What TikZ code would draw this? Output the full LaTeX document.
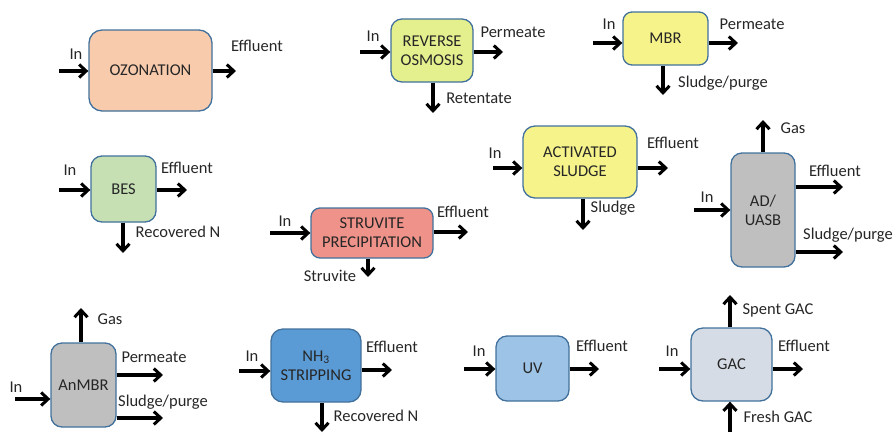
\documentclass[tikz,border=0pt]{standalone}
\usepackage{fontspec}
\setmainfont{Carlito}
\usetikzlibrary{arrows.meta}
\definecolor{ozfill}{HTML}{F8CBAD}
\definecolor{rofill}{HTML}{E4EF8E}
\definecolor{yelfill}{HTML}{F6F38A}
\definecolor{besfill}{HTML}{C6E0B4}
\definecolor{strfill}{HTML}{EF9289}
\definecolor{grayfill}{HTML}{BFBFBF}
\definecolor{nhfill}{HTML}{5B9BD5}
\definecolor{uvfill}{HTML}{9DC3E6}
\definecolor{gacfill}{HTML}{D6DCE5}
\definecolor{edge}{HTML}{41719C}
\definecolor{txt}{HTML}{262626}
\tikzset{
  box/.style={draw=edge, line width=1.3pt, rounded corners=11pt, align=center,
    inner sep=0pt, text=txt, font=\fontsize{16.5}{19}\selectfont},
  flow/.style={line width=3.2pt, -{Straight Barb[length=7pt,width=13pt,line width=3pt]}},
  lbl/.style={inner sep=0pt, text=txt, font=\fontsize{16.5}{19}\selectfont},
}
\begin{document}
\begin{tikzpicture}[x=1pt,y=-1pt]
\useasboundingbox (0,0) rectangle (896,432);
% OZONATION
\node[box, fill=ozfill, minimum width=123pt, minimum height=81pt, rounded corners=13pt] (oz) at (150.5,70.5) {OZONATION};
\coordinate (ozin) at (59,71); \coordinate (ozout) at (236,71);
\draw[flow] (ozin) -- (oz.west |- ozin);
\draw[flow] (oz.east |- ozout) -- (ozout);
\node[lbl] (ozl1) at (76,54) {In};
\node[lbl] (ozl2) at (257,46) {Effluent};
% REVERSE OSMOSIS
\node[box, fill=rofill, minimum width=82pt, minimum height=63pt] (ro) at (432,50.5) {REVERSE\\OSMOSIS};
\coordinate (roin) at (360,52); \coordinate (roout) at (503,52); \coordinate (rodown) at (433,113);
\draw[flow] (roin) -- (ro.west |- roin);
\draw[flow] (ro.east |- roout) -- (roout);
\draw[flow] (ro.south -| rodown) -- (rodown);
\node[lbl] (rol1) at (373,36) {In};
\node[lbl] (rol2) at (513,32) {Permeate};
\node[lbl] (rol3) at (479,98) {Retentate};
% MBR
\node[box, fill=yelfill, minimum width=85pt, minimum height=53pt, rounded corners=9pt] (mbr) at (665.5,38.5) {MBR};
\coordinate (mbrin) at (593,43); \coordinate (mbrout) at (738,43); \coordinate (mbrdown) at (663,95);
\draw[flow] (mbrin) -- (mbr.west |- mbrin);
\draw[flow] (mbr.east |- mbrout) -- (mbrout);
\draw[flow] (mbr.south -| mbrdown) -- (mbrdown);
\node[lbl] (mbrl1) at (609,24) {In};
\node[lbl] (mbrl2) at (752,24) {Permeate};
\node[lbl] (mbrl3) at (723,83) {Sludge/purge};
% BES
\node[box, fill=besfill, minimum width=65pt, minimum height=66pt] (bes) at (123.5,189) {BES};
\coordinate (besin) at (59,190); \coordinate (besout) at (187,190); \coordinate (besdown) at (123,253);
\draw[flow] (besin) -- (bes.west |- besin);
\draw[flow] (bes.east |- besout) -- (besout);
\draw[flow] (bes.south -| besdown) -- (besdown);
\node[lbl] (besl1) at (70,170) {In};
\node[lbl] (besl2) at (187,168) {Effluent};
\node[lbl] (besl3) at (178,232) {Recovered N};
% STRUVITE
\node[box, fill=strfill, minimum width=122pt, minimum height=50pt, rounded corners=9pt] (str) at (372,233) {STRUVITE\\PRECIPITATION};
\coordinate (strin) at (270,233); \coordinate (strout) at (468,232); \coordinate (strdown) at (368,277);
\draw[flow] (strin) -- (str.west |- strin);
\draw[flow] (str.east |- strout) -- (strout);
\draw[flow] (str.south -| strdown) -- (strdown);
\node[lbl] (strl1) at (285,221) {In};
\node[lbl] (strl2) at (463,212) {Effluent};
\node[lbl] (strl3) at (330,276) {Struvite};
% ACTIVATED SLUDGE
\node[box, fill=yelfill, minimum width=114pt, minimum height=72pt, rounded corners=12pt] (as) at (580,162) {ACTIVATED\\SLUDGE};
\coordinate (asin) at (493,168); \coordinate (asout) at (668,168); \coordinate (asdown) at (583,230);
\draw[flow] (asin) -- (as.west |- asin);
\draw[flow] (as.east |- asout) -- (asout);
\draw[flow] (as.south -| asdown) -- (asdown);
\node[lbl] (asl1) at (495,153) {In};
\node[lbl] (asl2) at (673,143) {Effluent};
\node[lbl] (asl3) at (613,208) {Sludge};
% AD/UASB
\node[box, fill=grayfill, minimum width=64pt, minimum height=114pt] (ad) at (763,210) {AD/\\UASB};
\coordinate (adin) at (694,210); \coordinate (adup) at (763,120);
\coordinate (adeff) at (843,187); \coordinate (adsl) at (843,252);
\draw[flow] (adin) -- (ad.west |- adin);
\draw[flow] (ad.north -| adup) -- (adup);
\draw[flow] (ad.east |- adeff) -- (adeff);
\draw[flow] (ad.east |- adsl) -- (adsl);
\node[lbl] (adl1) at (793,128) {Gas};
\node[lbl] (adl2) at (707,197) {In};
\node[lbl] (adl3) at (835,171) {Effluent};
\node[lbl] (adl4) at (848,235) {Sludge/purge};
% AnMBR
\node[box, fill=grayfill, minimum width=65pt, minimum height=84pt] (an) at (83.5,385) {AnMBR};
\coordinate (anin) at (15,399); \coordinate (anup) at (81,308);
\coordinate (anper) at (163,375); \coordinate (ansl) at (163,418);
\draw[flow] (anin) -- (an.west |- anin);
\draw[flow] (an.north -| anup) -- (anup);
\draw[flow] (an.east |- anper) -- (anper);
\draw[flow] (an.east |- ansl) -- (ansl);
\node[lbl] (anl1) at (110,319) {Gas};
\node[lbl] (anl2) at (16,387) {In};
\node[lbl] (anl3) at (154,357) {Permeate};
\node[lbl] (anl4) at (163,402) {Sludge/purge};
% NH3 STRIPPING
\node[box, fill=nhfill, minimum width=90pt, minimum height=73pt, rounded corners=12pt] (nh) at (316,365.5) {NH\textsubscript{3}\\STRIPPING};
\coordinate (nhin) at (239,371); \coordinate (nhout) at (392,370); \coordinate (nhdown) at (322,432);
\draw[flow] (nhin) -- (nh.west |- nhin);
\draw[flow] (nh.east |- nhout) -- (nhout);
\draw[flow] (nh.south -| nhdown) -- (nhdown);
\node[lbl] (nhl1) at (252,356) {In};
\node[lbl] (nhl2) at (392,347) {Effluent};
\node[lbl] (nhl3) at (376,416) {Recovered N};
% UV
\node[box, fill=uvfill, minimum width=73pt, minimum height=65pt] (uv) at (532.5,368.5) {UV};
\coordinate (uvin) at (464,369); \coordinate (uvout) at (599,369);
\draw[flow] (uvin) -- (uv.west |- uvin);
\draw[flow] (uv.east |- uvout) -- (uvout);
\node[lbl] (uvl1) at (479,351) {In};
\node[lbl] (uvl2) at (602,346) {Effluent};
% GAC
\node[box, fill=gacfill, minimum width=81pt, minimum height=73pt, rounded corners=12pt] (gac) at (731.5,364.5) {GAC};
\coordinate (gacin) at (659,369); \coordinate (gacout) at (803,369);
\coordinate (gacup) at (730,295); \coordinate (gacfr) at (730,432);
\draw[flow] (gacin) -- (gac.west |- gacin);
\draw[flow] (gac.east |- gacout) -- (gacout);
\draw[flow] (gac.north -| gacup) -- (gacup);
\draw[flow] (gacfr) -- (gac.south -| gacfr);
\node[lbl] (gacl1) at (672,351) {In};
\node[lbl] (gacl2) at (804,346) {Effluent};
\node[lbl] (gacl3) at (778,310) {Spent GAC};
\node[lbl] (gacl4) at (778,417) {Fresh GAC};
\end{tikzpicture}
\end{document}
